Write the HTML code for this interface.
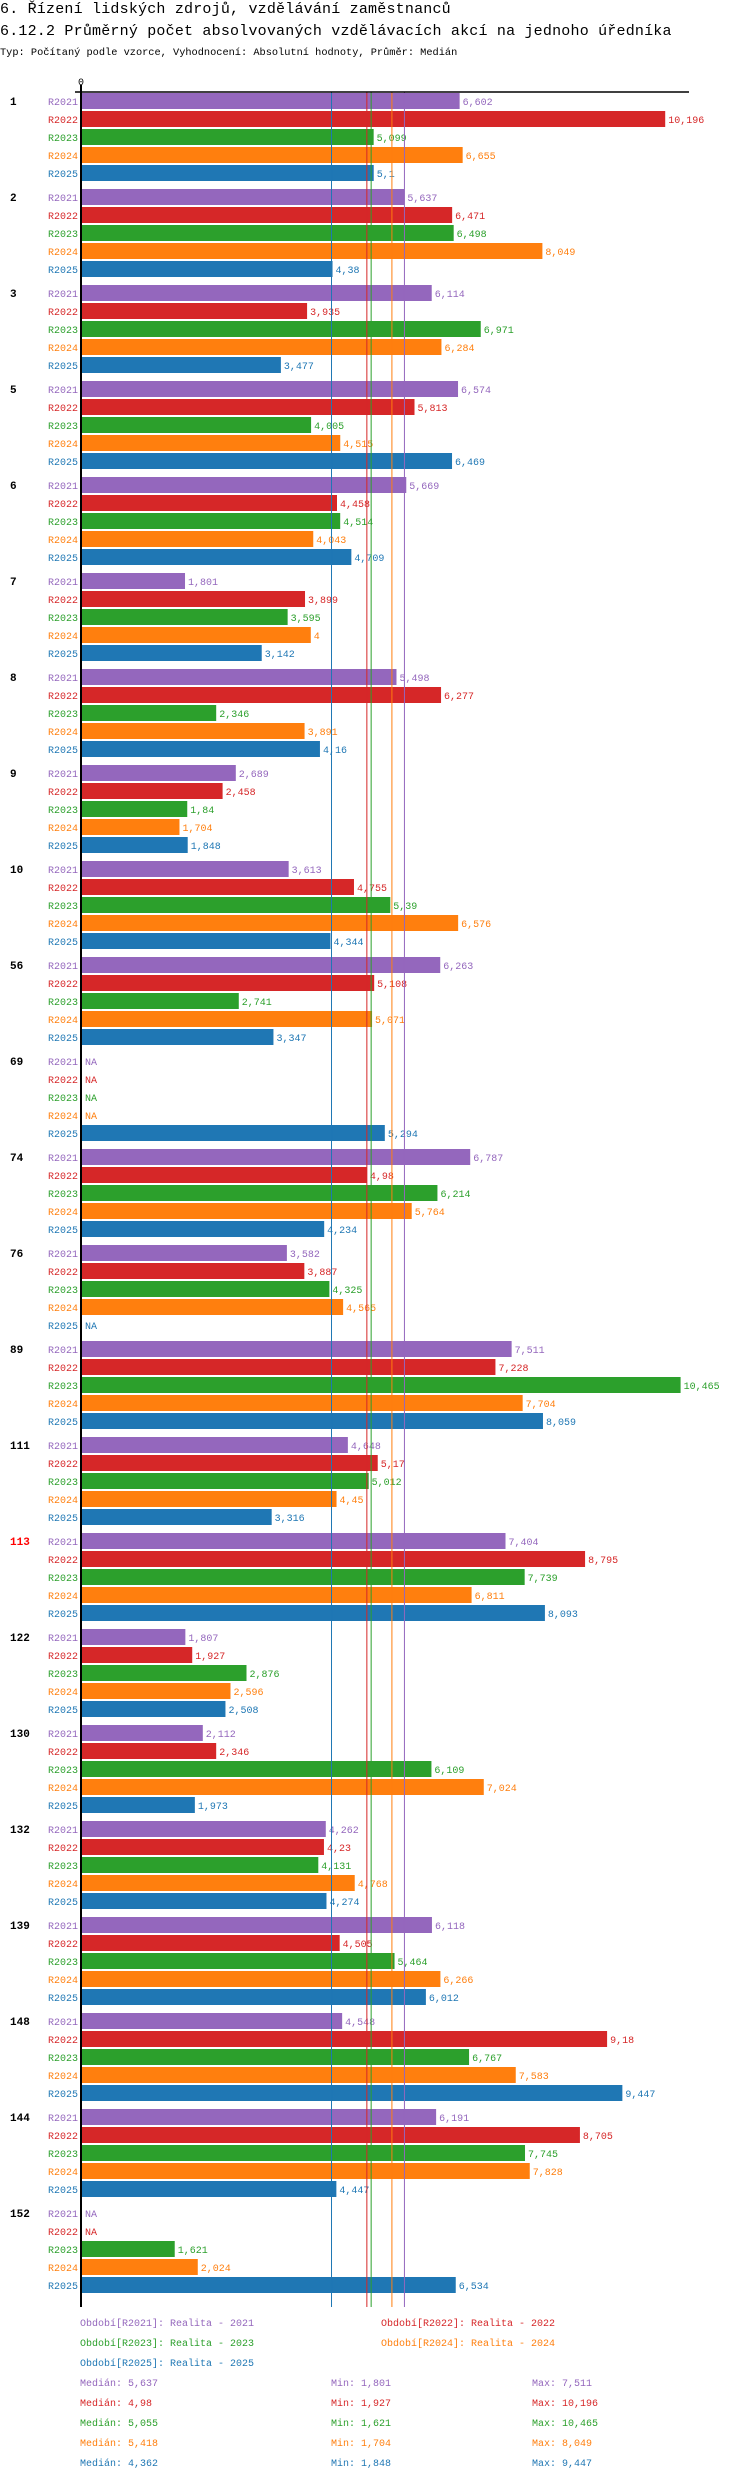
<!DOCTYPE html>
<html><head><meta charset="utf-8">
<style>
html,body{margin:0;padding:0;background:#fff;width:750px;height:2480px;overflow:hidden}
svg{display:block}
text{font-family:"Liberation Mono",monospace}
</style></head>
<body>
<svg id="chart" width="750" height="2480" xmlns="http://www.w3.org/2000/svg">
<text x="0" y="13" font-size="15" letter-spacing="0.2">6. Řízení lidských zdrojů, vzdělávání zaměstnanců</text>
<text x="0" y="35" font-size="15" letter-spacing="0.2">6.12.2 Průměrný počet absolvovaných vzdělávacích akcí na jednoho úředníka</text>
<text x="0" y="55" font-size="10.3">Typ: Počítaný podle vzorce, Vyhodnocení: Absolutní hodnoty, Průměr: Medián</text>
<g id="plot"></g>
<g id="legend"></g>
</svg>
<script>
const categories = ["1","2","3","5","6","7","8","9","10","56","69","74","76","89","111","113","122","130","132","139","148","144","152"];
const seriesNames = ["R2021","R2022","R2023","R2024","R2025"];
const r2021 = [6.602,5.637,6.114,6.574,5.669,1.801,5.498,2.689,3.613,6.263,null,6.787,3.582,7.511,4.648,7.404,1.807,2.112,4.262,6.118,4.548,6.191,null];
const r2022 = [10.196,6.471,3.935,5.813,4.458,3.899,6.277,2.458,4.755,5.108,null,4.98,3.887,7.228,5.17,8.795,1.927,2.346,4.23,4.505,9.18,8.705,null];
const r2023 = [5.099,6.498,6.971,4.005,4.514,3.595,2.346,1.84,5.39,2.741,null,6.214,4.325,10.465,5.012,7.739,2.876,6.109,4.131,5.464,6.767,7.745,1.621];
const r2024 = [6.655,8.049,6.284,4.515,4.043,4,3.891,1.704,6.576,5.071,null,5.764,4.565,7.704,4.45,6.811,2.596,7.024,4.768,6.266,7.583,7.828,2.024];
const r2025 = [5.1,4.38,3.477,6.469,4.709,3.142,4.16,1.848,4.344,3.347,5.294,4.234,null,8.059,3.316,8.093,2.508,1.973,4.274,6.012,9.447,4.447,6.534];
const medians = [5.637,4.98,5.055,5.418,4.362];
const mins = [1.801,1.927,1.621,1.704,1.848];
const maxs = [7.511,10.196,10.465,8.049,9.447];
const legendLabels = ["Období[R2021]: Realita - 2021","Období[R2022]: Realita - 2022","Období[R2023]: Realita - 2023","Období[R2024]: Realita - 2024","Období[R2025]: Realita - 2025"];
const highlighted = ["113"];

const series=[r2021,r2022,r2023,r2024,r2025];
const colors=["#9467bd","#d62728","#2ca02c","#ff7f0e","#1f77b4"];
const X0=82, PX=57.2;
const xs=v=>X0+v*PX;
const GROUP_TOP=93, GROUP_H=96, BAR_P=18, BAR_H=16;
const ys=(g,b)=>GROUP_TOP+g*GROUP_H+b*BAR_P;
const fmt=v=>String(v).replace('.',',');
const NS="http://www.w3.org/2000/svg";
const plot=document.getElementById('plot');
const legend=document.getElementById('legend');
function mk(tag,attrs,parent,txt){const e=document.createElementNS(NS,tag);for(const k in attrs)e.setAttribute(k,attrs[k]);if(txt!==undefined)e.textContent=txt;parent.appendChild(e);return e;}
const bottom=ys(categories.length-1,4)+BAR_H+14;

categories.forEach((c,g)=>{
  const gl=mk('text',{x:10,y:ys(g,0)+12,'font-size':11,'font-weight':'bold',fill:highlighted.includes(c)?'#ff0000':'#000'},plot,c);
  
  
  series.forEach((s,b)=>{
    const y=ys(g,b);const v=s[g];
    const sl=mk('text',{x:78,y:y+12,'font-size':10,'text-anchor':'end',fill:colors[b]},plot,seriesNames[b]);
    
    
    if(v===null){
      const na=mk('text',{x:X0+3,y:y+12,'font-size':10,fill:colors[b]},plot,'NA');
      
      
      return;
    }
    const r=mk('rect',{x:X0,y:y,width:xs(v)-X0,height:BAR_H,fill:colors[b]},plot);
    
    
    const vl=mk('text',{x:xs(v)+3,y:y+12,'font-size':10,fill:colors[b]},plot,fmt(v));
    
    
  });
});
medians.forEach((m,i)=>{
  const l=mk('line',{x1:xs(m),x2:xs(m),y1:92,y2:bottom,stroke:colors[i],'stroke-width':1},plot);
  
  
});
const ax=mk('line',{x1:75,x2:689,y1:92,y2:92,stroke:'#000','stroke-width':1.5},plot);


const ay=mk('line',{x1:X0-1,x2:X0-1,y1:85,y2:bottom,stroke:'#000','stroke-width':2},plot);


const zt=mk('text',{x:X0-1,y:85,'font-size':10,'text-anchor':'middle'},plot,'0');



const lpos=[[80,2326],[381,2326],[80,2346],[381,2346],[80,2366]];
legendLabels.forEach((t,i)=>{
  const e=mk('text',{x:lpos[i][0],y:lpos[i][1],'font-size':10,fill:colors[i]},legend,t);
  
  
});
medians.forEach((m,i)=>{
  const y=2386+i*20;
  const a=mk('text',{x:80,y:y,'font-size':10,fill:colors[i]},legend,'Medián: '+fmt(m));
  
  
  const b=mk('text',{x:331,y:y,'font-size':10,fill:colors[i]},legend,'Min: '+fmt(mins[i]));
  
  
  const c=mk('text',{x:532,y:y,'font-size':10,fill:colors[i]},legend,'Max: '+fmt(maxs[i]));
  
  
});
</script>
</body></html>
